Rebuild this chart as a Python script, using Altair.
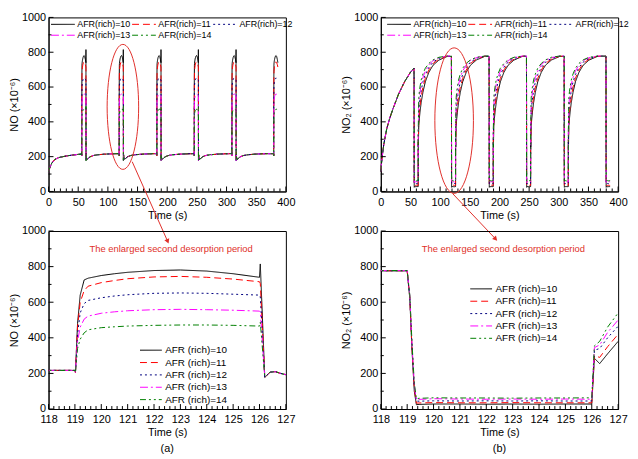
import altair as alt
import pandas as pd

FONT = "Liberation Sans"
RED = "#E0302A"

AFR = ["10", "11", "12", "13", "14"]
TOP_LABELS = ["AFR(rich)=10", "AFR(rich)=11", "AFR(rich)=12", "AFR(rich)=13", "AFR(rich)=14"]
BOT_LABELS = ["AFR (rich)=10", "AFR (rich)=11", "AFR (rich)=12", "AFR (rich)=13", "AFR (rich)=14"]
COLORS = ["#000000", "#FF0000", "#00007F", "#FF00FF", "#007F00"]
DASHES = [[1, 0], [7, 4], [2, 3], [8, 3, 2, 3], [6, 3, 2, 3, 2, 3]]

# cycle timing (s)
RICH_START = [56, 119, 182.5, 245.5, 309, 379.5]
RICH_LEN = 7
T_END = 386.5

# ---- NO (x10^-6) ----
NO_FIRST_T = [0, 2, 5, 10, 15, 20, 30, 40, 50, 56]
NO_FIRST_V = [110, 135, 160, 182, 192, 197, 204, 209, 213, 215]
NO_RICH_T = [0.02, 0.1, 0.2, 0.35, 0.5, 1, 1.5, 2, 3, 4, 5, 6, 7, 7.03]
NO_RICH_V = {
    "10": [205, 480, 640, 725, 735, 750, 760, 768, 778, 781, 775, 760, 740, 815],
    "11": [205, 460, 600, 665, 690, 710, 722, 732, 742, 745, 740, 730, 715, 705],
    "12": [205, 420, 540, 592, 610, 625, 635, 642, 650, 652, 650, 645, 640, 630],
    "13": [205, 380, 460, 505, 522, 538, 546, 552, 558, 560, 558, 555, 550, 545],
    "14": [205, 340, 392, 428, 445, 457, 462, 466, 470, 472, 472, 470, 466, 488],
}
NO_LEAN_T = [0.2, 0.4, 0.6, 0.8, 1.0, 2, 4, 7, 12, 20, 35, 49]
NO_LEAN_V = [178, 207, 210, 200, 193, 184, 190, 199, 206, 211, 215, 217]

# ---- NO2 (x10^-6) ----
NO2_FIRST_T = [0, 2, 5, 10, 15, 20, 30, 40, 50, 56]
NO2_FIRST_V = [115, 190, 270, 360, 420, 470, 560, 630, 685, 708]
NO2_RICH_T = [0.1, 0.18, 0.27, 0.35, 0.45, 1, 2, 3, 4, 5, 6, 7]
NO2_RICH_V = {
    "10": [620, 340, 100, 24, 26, 28, 28, 27, 28, 27, 28, 28],
    "11": [625, 350, 115, 33, 34, 36, 35, 35, 36, 35, 35, 35],
    "12": [630, 360, 125, 44, 44, 46, 45, 46, 45, 46, 45, 45],
    "13": [635, 370, 135, 52, 54, 58, 56, 55, 56, 55, 56, 55],
    "14": [640, 380, 145, 58, 60, 63, 62, 62, 61, 62, 62, 63],
}
NO2_LEAN_T = [0.1, 0.3, 0.6, 1.0, 2, 3, 5, 8, 12, 18, 25, 35, 49]
NO2_LEAN_V = {
    "10": [285, 255, 310, 380, 420, 455, 510, 570, 630, 685, 725, 755, 776],
    "11": [300, 290, 350, 420, 455, 490, 545, 600, 650, 698, 735, 760, 777],
    "12": [330, 340, 400, 465, 500, 530, 580, 630, 672, 712, 743, 765, 777],
    "13": [345, 360, 430, 500, 540, 570, 615, 655, 692, 727, 752, 769, 778],
    "14": [355, 380, 460, 540, 575, 600, 640, 675, 708, 736, 756, 771, 778],
}

# axis ticks
TOP_X_MAJOR = [0, 50, 100, 150, 200, 250, 300, 350, 400]
TOP_X_MINOR = [v for v in range(10, 400, 10) if v % 50 != 0]
BOT_X_MAJOR = [118, 119, 120, 121, 122, 123, 124, 125, 126, 127]
BOT_X_MINOR = [round(118 + 0.2 * k, 1) for k in range(1, 45) if k % 5 != 0]
Y_MAJOR = [0, 200, 400, 600, 800, 1000]
Y_MINOR = [100, 300, 500, 700, 900]

# annotations (data coordinates of the panels)
ELL_A = {"t": [125.3], "v": [486]}
ELL_B = {"t": [123.6], "v": [407]}
ARROW_A = {"t1": [141], "v1": [171], "t2": [200.8], "v2": [-287]}
ARROW_B = {"t1": [121], "v1": [-12], "t2": [193.5], "v2": [-273]}
NOTE = "The enlarged second desorption period"

W, HT, HB = 240, 176, 180


def build(first_t, first_v, rich_t, rich_v, lean_t, lean_v, labels):
    rows = []
    for i, a in enumerate(AFR):
        pts = list(zip(first_t, first_v))
        for k, rs in enumerate(RICH_START):
            if k > 0:
                pts.append((rs, pts[-1][1]))
            for o, v in zip(rich_t, rich_v[a]):
                if rs + o <= T_END + 1e-9:
                    pts.append((rs + o, v))
            if k + 1 >= len(RICH_START):
                continue
            re = rs + RICH_LEN
            nxt = RICH_START[k + 1]
            lv = lean_v[a] if isinstance(lean_v, dict) else lean_v
            for o, v in zip(lean_t, lv):
                if re + o < nxt - 0.01:
                    pts.append((re + o, v))
        for n, (t, v) in enumerate(pts):
            rows.append({"t": t, "v": v, "label": labels[i], "k": n})
    return pd.DataFrame(rows)


def ellipse_path(r):
    c = 0.5523
    return (f"M 0 -1 C {c*r:.4f} -1 {r:.4f} {-c:.4f} {r:.4f} 0 "
            f"C {r:.4f} {c:.4f} {c*r:.4f} 1 0 1 "
            f"C {-c*r:.4f} 1 {-r:.4f} {c:.4f} {-r:.4f} 0 "
            f"C {-r:.4f} {-c:.4f} {-c*r:.4f} -1 0 -1 Z")


def make_axes(xvals, ytitle):
    common = dict(format="d", ticks=False, grid=False, labelFontSize=11, titleFontSize=11,
                  labelFont=FONT, titleFont=FONT, titleFontWeight="normal", labelOverlap=False,
                  labelFlush=False, labelColor="black", titleColor="black", domainColor="black")
    xa = alt.Axis(values=xvals, title="Time (s)", titlePadding=2, labelPadding=5, **common)
    ya = alt.Axis(values=Y_MAJOR, title=ytitle, titlePadding=2, labelPadding=3, **common)
    return xa, ya


def panel_layers(df, labels, legend, xdom, xvals, ytitle, H, clip, xmin, extra):
    xa, ya = make_axes(xvals, ytitle)
    xs = alt.Scale(domain=xdom, nice=False)
    ys = alt.Scale(domain=[0, 1000], nice=False)

    def X(f):
        return alt.X(f, scale=xs, axis=xa)

    def Y(f):
        return alt.Y(f, scale=ys, axis=ya)

    enc_color = alt.Color("label:N", scale=alt.Scale(domain=labels, range=COLORS), legend=legend)
    enc_dash = alt.StrokeDash("label:N", scale=alt.Scale(domain=labels, range=DASHES), legend=legend)
    layers = [alt.Chart(df).mark_line(strokeWidth=1, clip=clip).encode(
        x=X("t:Q"), y=Y("v:Q"), color=enc_color, strokeDash=enc_dash, order=alt.Order("k:Q"))]

    for vals, ln in ((xvals, 5), (xmin, 3)):
        layers.append(alt.Chart(pd.DataFrame({"tx": vals})).mark_rule(color="black", strokeWidth=1).encode(
            x=X("tx:Q"), y=alt.value(H), y2=alt.value(H - ln)))
    for vals, ln in ((Y_MAJOR, 5), (Y_MINOR, 3)):
        layers.append(alt.Chart(pd.DataFrame({"ty": vals})).mark_rule(color="black", strokeWidth=1).encode(
            y=Y("ty:Q"), x=alt.value(0), x2=alt.value(ln)))

    kind = extra[0]
    if kind == "annot":
        _, ell, r, size, arrow, angle = extra
        layers.append(alt.Chart(pd.DataFrame(ell)).mark_point(
            shape=ellipse_path(r), size=size, filled=False, stroke=RED, strokeWidth=1, opacity=1).encode(
            x=X("t:Q"), y=Y("v:Q")))
        layers.append(alt.Chart(pd.DataFrame(arrow)).mark_rule(color=RED, strokeWidth=1).encode(
            x=X("t1:Q"), y=Y("v1:Q"), x2="t2", y2="v2"))
        layers.append(alt.Chart(pd.DataFrame(arrow)).mark_point(
            shape="triangle-down", angle=angle, size=28, filled=True, color=RED, opacity=1).encode(
            x=X("t2:Q"), y=Y("v2:Q")))
    else:
        layers.append(alt.Chart(pd.DataFrame({"t": [122.65], "v": [900], "s": [NOTE]})).mark_text(
            color=RED, font=FONT, fontSize=9.5, align="center", baseline="middle").encode(
            x=X("t:Q"), y=Y("v:Q"), text="s:N"))
    return layers


def top_legend(x):
    return alt.Legend(title=None, orient="none", legendX=x, legendY=2, direction="horizontal",
                      columns=3, symbolType="stroke", symbolSize=576, symbolStrokeWidth=1,
                      labelFont=FONT, labelFontSize=9, labelColor="black", columnPadding=1,
                      rowPadding=1, labelOffset=2, padding=0, labelLimit=0, clipHeight=10)


def bot_legend(x, y):
    return alt.Legend(title=None, orient="none", legendX=x, legendY=y, direction="vertical",
                      symbolType="stroke", symbolSize=484, symbolStrokeWidth=1,
                      labelFont=FONT, labelFontSize=10, labelColor="black",
                      rowPadding=1.5, labelOffset=3, padding=0, labelLimit=0, clipHeight=11)


no_all = build(NO_FIRST_T, NO_FIRST_V, NO_RICH_T, NO_RICH_V, NO_LEAN_T, NO_LEAN_V, TOP_LABELS)
no2_all = build(NO2_FIRST_T, NO2_FIRST_V, NO2_RICH_T, NO2_RICH_V, NO2_LEAN_T, NO2_LEAN_V, TOP_LABELS)

no_zoom = build(NO_FIRST_T, NO_FIRST_V, NO_RICH_T, NO_RICH_V, NO_LEAN_T, NO_LEAN_V, BOT_LABELS)
no_zoom = no_zoom[(no_zoom.t >= 112) & (no_zoom.t <= 128.5)]
no2_zoom = build(NO2_FIRST_T, NO2_FIRST_V, NO2_RICH_T, NO2_RICH_V, NO2_LEAN_T, NO2_LEAN_V, BOT_LABELS)
no2_zoom = no2_zoom[(no2_zoom.t >= 112) & (no2_zoom.t <= 128.5)]

YT_NO = "NO (×10⁻⁶)"
YT_NO2 = "NO₂ (×10⁻⁶)"

tl = alt.layer(*panel_layers(no_all, TOP_LABELS, top_legend(2), [0, 400], TOP_X_MAJOR, YT_NO, HT, False,
                             TOP_X_MINOR, ("annot", ELL_A, 0.252, 15977, ARROW_A, 337))
               ).properties(width=W, height=HT)

tr = alt.layer(*panel_layers(no2_all, TOP_LABELS, top_legend(6), [0, 400], TOP_X_MAJOR, YT_NO2, HT, False,
                             TOP_X_MINOR, ("annot", ELL_B, 0.265, 21668, ARROW_B, 317))
               ).properties(width=W, height=HT)

title_a = alt.TitleParams("(a)", orient="bottom", fontSize=11, font=FONT, fontWeight="normal",
                          offset=5, color="black", frame="group", anchor="middle")
title_b = alt.TitleParams("(b)", orient="bottom", fontSize=11, font=FONT, fontWeight="normal",
                          offset=5, color="black", frame="group", anchor="middle")

bl = alt.layer(*panel_layers(no_zoom, BOT_LABELS, bot_legend(92, 115), [118, 127], BOT_X_MAJOR, YT_NO, HB, True,
                             BOT_X_MINOR, ("note",))
               ).properties(width=W, height=HB, title=title_a)

br = alt.layer(*panel_layers(no2_zoom, BOT_LABELS, bot_legend(90, 53), [118, 127], BOT_X_MAJOR, YT_NO2, HB, True,
                             BOT_X_MINOR, ("note",))
               ).properties(width=W, height=HB, title=title_b)

chart = alt.concat(tl, tr, bl, br, columns=2, spacing={"row": 40, "column": 96},
                   bounds="flush").resolve_scale(
    color="independent", strokeDash="independent").resolve_legend(
    color="independent", strokeDash="independent").properties(
    padding={"left": 0, "top": 0, "right": 0, "bottom": 0}, background="white"
).configure_view(stroke="black", strokeWidth=1).configure_axis(labelOverlap=False, labelFlush=False)

chart.save("out.html", embed_options={"renderer": "svg", "actions": False})
